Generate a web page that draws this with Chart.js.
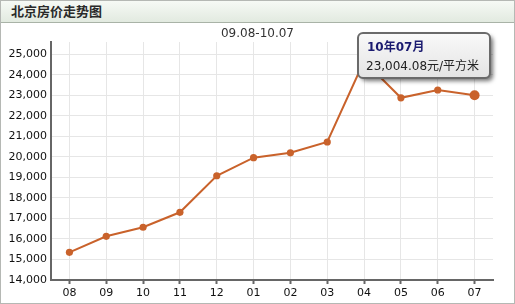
<!DOCTYPE html>
<html>
<head>
<meta charset="utf-8">
<script src="https://cdn.jsdelivr.net/npm/chart.js@4/dist/chart.umd.min.js"></script>
<style>
  html, body { margin: 0; padding: 0; background: #fff; }
  #wrap { position: relative; width: 515px; height: 304px; overflow: hidden; background: #fff; }
  #header { position: absolute; left: 0; top: 0; width: 515px; height: 23px;
    background: linear-gradient(#f7faf6, #e2eae0); border-bottom: 1px solid #a9b3a7; box-sizing: border-box; }
  #header span { position: absolute; left: 11px; top: 3px; font: bold 13px 'Noto Sans CJK SC', sans-serif; color: #2a2a2a; line-height: 16px; }
  #sub { position: absolute; left: 0; width: 515px; top: 25px; text-align: center; font: 12px 'DejaVu Sans', sans-serif; color: #333; line-height: 16px; }
  #cv { position: absolute; left: 0; top: 24px; }
  #frame { position: absolute; left: 0; top: 0; width: 515px; height: 304px; box-sizing: border-box; border: 1px solid #b5b8b4; pointer-events: none; }
</style>
</head>
<body>
<div id="wrap">
  <div id="header"><span>北京房价走势图</span></div>
  <canvas id="cv" width="515" height="280"></canvas>
  <div id="sub">09.08-10.07</div>
  <div id="frame"></div>
</div>
<script>
const categories = ['08','09','10','11','12','01','02','03','04','05','06','07'];
const prices = [15350, 16130, 16570, 17300, 19080, 19960, 20200, 20725, 24670, 22880, 23260, 23004.08];
const yTickValues = [14000, 15000, 16000, 17000, 18000, 19000, 20000, 21000, 22000, 23000, 24000, 25000];
const tooltipTitle = '10年07月';
const tooltipUnit = '元/平方米';
const yMin = 14000, yMax = 25600;

const lineColor = '#c9622b';
const last = prices.length - 1;

const tipPlugin = {
  id: 'fixedTip',
  afterDraw(chart) {
    const ctx = chart.ctx;
    const meta = chart.getDatasetMeta(0);
    const pt = meta.data[last];
    const body = prices[last].toLocaleString('en-US', {minimumFractionDigits: 2, maximumFractionDigits: 2}) + tooltipUnit;
    ctx.save();
    ctx.font = "12px 'DejaVu Sans', 'Noto Sans CJK SC'";
    const bw = ctx.measureText(body).width;
    const w = Math.round(bw + 19), h = 45;
    const x = Math.round(pt.x + 15 - w), y = Math.round(pt.y - 62);
    ctx.shadowColor = 'rgba(0,0,0,0.55)';
    ctx.shadowBlur = 4;
    ctx.shadowOffsetX = 3;
    ctx.shadowOffsetY = 3;
    const g = ctx.createLinearGradient(0, y, 0, y + h);
    g.addColorStop(0, '#f9f9f9');
    g.addColorStop(1, '#e4e4e4');
    ctx.fillStyle = g;
    ctx.beginPath();
    ctx.roundRect(x, y, w, h, 5);
    ctx.fill();
    ctx.shadowColor = 'transparent';
    ctx.lineWidth = 2;
    ctx.strokeStyle = '#6a6a6a';
    ctx.stroke();
    ctx.textBaseline = 'middle';
    ctx.textAlign = 'left';
    ctx.fillStyle = '#1b1b70';
    ctx.font = "bold 12px 'DejaVu Sans', 'Noto Sans CJK SC'";
    ctx.fillText(tooltipTitle, x + 9, y + 14.5);
    ctx.fillStyle = '#222';
    ctx.font = "12px 'DejaVu Sans', 'Noto Sans CJK SC'";
    ctx.fillText(body, x + 8, y + 33.5);
    ctx.restore();
  }
};

new Chart(document.getElementById('cv'), {
  type: 'line',
  data: {
    labels: categories,
    datasets: [{
      data: prices,
      borderColor: lineColor,
      backgroundColor: lineColor,
      borderWidth: 2,
      pointBackgroundColor: lineColor,
      pointBorderColor: lineColor,
      pointBorderWidth: 0,
      pointRadius: c => c.dataIndex === last ? 5 : 3.6,
      tension: 0,
      fill: false
    }]
  },
  options: {
    responsive: false,
    animation: false,
    events: [],
    layout: { padding: { top: 18, right: 22, left: 0, bottom: 0 } },
    plugins: { legend: { display: false }, tooltip: { enabled: false }, title: { display: false } },
    scales: {
      x: {
        type: 'category',
        offset: true,
        afterFit: s => { s.height = 24; },
        grid: { offset: false, color: '#e6e6e6', lineWidth: 1, drawTicks: true, tickLength: 4, tickColor: '#666', tickWidth: 2 },
        border: { color: '#666', width: 2 },
        ticks: { color: '#111', padding: 3, font: { family: "'DejaVu Sans'", size: 11 }, maxRotation: 0 }
      },
      y: {
        min: yMin, max: yMax,
        afterFit: s => { s.width = 51; },
        afterBuildTicks: s => { s.ticks = yTickValues.map(v => ({ value: v })); },
        grid: { color: '#e6e6e6', lineWidth: 1, drawTicks: false },
        border: { color: '#666', width: 2 },
        ticks: {
          autoSkip: false, padding: 4, color: '#111',
          font: { family: "'DejaVu Sans'", size: 11 },
          callback: v => Number(v).toLocaleString('en-US')
        }
      }
    }
  },
  plugins: [tipPlugin]
});
</script>
</body>
</html>
